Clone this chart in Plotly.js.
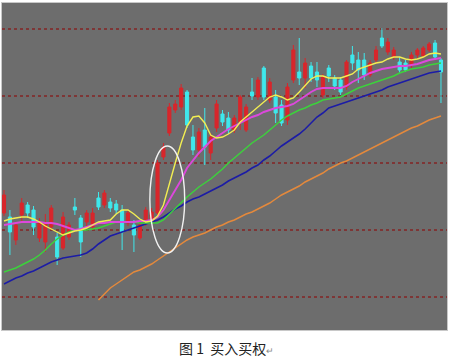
<!DOCTYPE html>
<html>
<head>
<meta charset="utf-8">
<script src="https://cdn.plot.ly/plotly-3.0.1.min.js"></script>
<style>html,body{margin:0;padding:0;background:#fff;}#chart{width:450px;height:359px;}</style>
</head>
<body>
<div id="chart"></div>
<script>
// Candle OHLC (arbitrary price units)
const openP  = [117,113,90,115,125,120,92,88,103,93,82,93,123,112,108,103,132,125,128,126,120,107,105,92,108,110,117,173,197,220,223,238,193,180,200,177,202,216,212,200,208,200,238,233,262,230,233,225,210,250,258,252,264,258,235,262,252,250,243,275,270,270,255,270,292,278,273,268,267,265,275,274,280,287,270];
const highP  = [140,120,108,132,128,124,112,116,125,97,118,108,132,115,120,122,138,140,132,130,125,120,110,110,123,122,170,187,227,230,246,240,205,202,222,197,230,220,218,215,235,226,252,253,264,252,240,230,247,285,292,272,268,268,256,265,255,253,270,284,278,277,270,284,302,292,283,273,270,278,282,284,288,290,272];
const lowP   = [114,75,85,108,112,95,88,78,100,65,80,90,115,73,104,100,120,122,118,116,80,104,78,90,104,108,115,170,194,217,220,202,175,173,165,170,198,204,196,197,200,198,230,230,230,227,207,204,205,247,245,242,248,243,232,248,240,235,240,260,247,250,253,267,282,275,270,257,258,262,272,272,278,270,227];
const closeP = [135,98,105,127,117,103,107,107,122,73,113,105,120,88,117,117,123,137,122,120,98,117,95,105,120,118,167,183,223,226,242,205,180,198,183,193,226,208,200,212,233,223,234,250,233,248,217,207,243,280,252,267,252,250,253,254,244,238,268,267,260,255,267,280,284,288,280,260,260,275,280,282,286,273,258];

// Moving averages
const ma5  = [109,111,112,113,113,111,108,104,101,98,95,97,99,100,102,105,108,109,110,116,120,120,116,111,108,109,114,125,147,167,187,204,213,214,207,195,192,193,196,200,208,213,218,223,228,233,235,233,230,232,238,245,251,254,254,252,252,252,254,256,261,263,265,267,268,271,273,273,271,270,271,273,276,277,276];
const ma10 = [105,106,107,108,108,108,108,107,107,106,104,102,100,101,103,105,107,107,108,108,108,108,108,109,109,110,113,120,130,140,150,162,170,177,183,189,193,197,201,204,207,210,213,215,218,220,222,223,224,226,230,234,238,241,242,242,242,242,244,248,251,254,257,259,261,262,263,264,264,265,266,268,270,271,272];
const ma20 = [58,60,62,65,68,71,75,80,86,91,95,98,100,100,100,101,102,104,106,108,108,108,108,107,107,107,107,110,116,122,128,133,138,143,147,151,156,161,167,172,177,182,187,191,195,200,205,210,214,217,220,222,225,227,230,231,232,233,236,239,242,244,246,248,250,252,254,257,259,261,262,263,265,266,267];
const ma30 = [46,49,52,54,57,59,62,65,68,70,72,73,74,75,77,81,86,90,94,96,98,100,102,104,106,108,110,113,117,121,124,128,131,133,136,139,142,145,149,152,155,158,162,165,170,174,179,184,188,192,196,201,207,213,217,222,224,226,228,230,232,234,236,238,240,243,245,247,249,251,253,255,257,258,259];
const ma60 = [null,null,null,null,null,null,null,null,null,null,null,null,null,null,null,null,30,36,42,46,50,54,58,60,63,66,70,74,78,82,86,90,93,95,97,100,103,105,108,110,113,116,118,121,124,127,131,135,138,141,144,148,151,154,157,161,164,167,169,172,175,178,181,184,187,190,193,196,199,202,204,207,210,212,214];

const idx = openP.map((_, i) => i);
const captionText = '图 1  买入买权';

const traces = [
  {type:'candlestick', x:idx, open:openP, high:highP, low:lowP, close:closeP,
   increasing:{line:{color:'#d8262b', width:1}, fillcolor:'#d8262b'},
   decreasing:{line:{color:'#3fe8ec', width:1}, fillcolor:'#3fe8ec'},
   whiskerwidth:0, hoverinfo:'skip', showlegend:false},
  {type:'scatter', mode:'lines', x:idx, y:ma60, line:{color:'#e4893c', width:1.5}, showlegend:false, hoverinfo:'skip'},
  {type:'scatter', mode:'lines', x:idx, y:ma30, line:{color:'#1c1ca6', width:1.6}, showlegend:false, hoverinfo:'skip'},
  {type:'scatter', mode:'lines', x:idx, y:ma20, line:{color:'#3cd23c', width:1.5}, showlegend:false, hoverinfo:'skip'},
  {type:'scatter', mode:'lines', x:idx, y:ma10, line:{color:'#dc48dc', width:1.9}, showlegend:false, hoverinfo:'skip'},
  {type:'scatter', mode:'lines', x:idx, y:ma5,  line:{color:'#f2ee52', width:1.4}, showlegend:false, hoverinfo:'skip'}
];

const layout = {
  width:450, height:359,
  margin:{l:2, r:3, t:3, b:29, pad:0},
  paper_bgcolor:'#ffffff',
  plot_bgcolor:'#6d6d6d',
  showlegend:false,
  boxgap:0.25,
  xaxis:{range:[-0.34, 75.02], showgrid:false, zeroline:false, showticklabels:false, ticks:'',
         rangeslider:{visible:false}, showline:true, mirror:true, linecolor:'#c8c8c8', linewidth:1},
  yaxis:{range:[0, 327], showgrid:true, gridcolor:'#7e3636', griddash:'3px,3px', gridwidth:1.6,
         tick0:33, dtick:67, zeroline:false, showticklabels:false, ticks:'',
         showline:true, mirror:true, linecolor:'#c8c8c8', linewidth:1},
  shapes:[
    {type:'circle', xref:'x', yref:'y', x0:24.7, x1:30.6, y0:77, y1:184,
     line:{color:'#f2f2f2', width:1.4}, fillcolor:'rgba(0,0,0,0)'}
  ],
  annotations:[
    {text:captionText + '<span style="font-size:9px;color:#888">↵</span>', xref:'paper', yref:'paper', x:0.505, y:-0.055,
     xanchor:'center', yanchor:'middle', showarrow:false,
     font:{family:'Noto Sans CJK SC, sans-serif', size:14, color:'#222'}}
  ]
};

Plotly.newPlot('chart', traces, layout, {staticPlot:true, displayModeBar:false});
</script>
</body>
</html>
